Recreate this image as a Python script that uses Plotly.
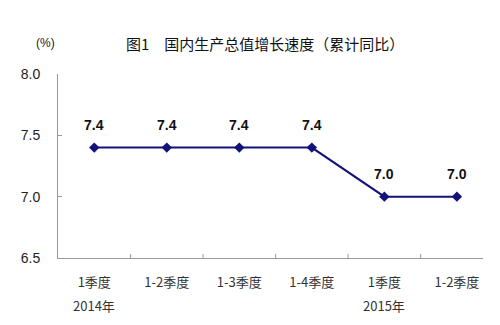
import plotly.graph_objects as go

categories = ["1季度", "1-2季度", "1-3季度", "1-4季度", "1季度", "1-2季度"]
years = ["2014年", "", "", "", "2015年", ""]
values = [7.4, 7.4, 7.4, 7.4, 7.0, 7.0]
y_ticks = [6.5, 7.0, 7.5, 8.0]
title = "图1　国内生产总值增长速度（累计同比）"

x = list(range(len(values)))

L, R, T, B = 58, 17, 74, 67
W, H = 500, 325
pw = W - L - R
ph = H - T - B


def px_x(p):
    return (p - L) / pw


def px_y(p):
    return (H - B - p) / ph


fig = go.Figure()
fig.add_trace(go.Scatter(
    x=x, y=values, mode="lines+markers",
    line=dict(color="#12127a", width=2),
    marker=dict(symbol="diamond", size=8, color="#12127a"),
    hoverinfo="skip",
))

annotations = [
    dict(text=title, x=px_x(265), y=px_y(43), xref="paper", yref="paper", showarrow=False,
         xanchor="center", yanchor="middle",
         font=dict(family="Noto Sans CJK SC", size=15, color="#111")),
    dict(text="(%)", x=px_x(45), y=px_y(43), xref="paper", yref="paper", showarrow=False,
         xanchor="center", yanchor="middle",
         font=dict(family="Arial, Liberation Sans", size=12, color="#222")),
]
for xi, v in zip(x, values):
    annotations.append(dict(text=f"<b>{v:.1f}</b>", x=xi, y=v, xref="x", yref="y",
                            showarrow=False, yshift=23, xanchor="center", yanchor="middle",
                            font=dict(family="Arial, Liberation Sans", size=14, color="#111")))
for xi, yr in zip(x, years):
    if yr:
        annotations.append(dict(text=yr, x=xi, y=px_y(305), xref="x", yref="paper",
                                showarrow=False, xanchor="center", yanchor="middle",
                                font=dict(family="Noto Sans CJK SC", size=13, color="#333")))

fig.update_layout(
    width=W, height=H,
    margin=dict(l=L, r=R, t=T, b=B),
    paper_bgcolor="white", plot_bgcolor="white",
    showlegend=False,
    annotations=annotations,
)

fig.update_xaxes(
    range=[-0.5, 5.36], tickmode="array", tickvals=x, ticktext=categories,
    showline=True, linecolor="#999", linewidth=1,
    ticks="", showgrid=False, zeroline=False, ticklabelstandoff=12,
    tickfont=dict(family="Noto Sans CJK SC", size=13, color="#333"),
)
for b in [0.5, 1.5, 2.5, 3.5, 4.5]:
    fig.add_shape(type="line", x0=b, x1=b, y0=0, y1=4 / ph, xref="x", yref="paper",
                  line=dict(color="#999", width=1))

fig.update_yaxes(
    range=[6.5, 8.0], tickvals=y_ticks, ticktext=[f"{v:.1f}" for v in y_ticks],
    showline=True, linecolor="#999", linewidth=1,
    ticks="inside", ticklen=4, tickcolor="#999",
    showgrid=False, zeroline=False, ticklabelstandoff=14,
    tickfont=dict(family="Arial, Liberation Sans", size=14, color="#222"),
)

fig.write_html("out.html")
